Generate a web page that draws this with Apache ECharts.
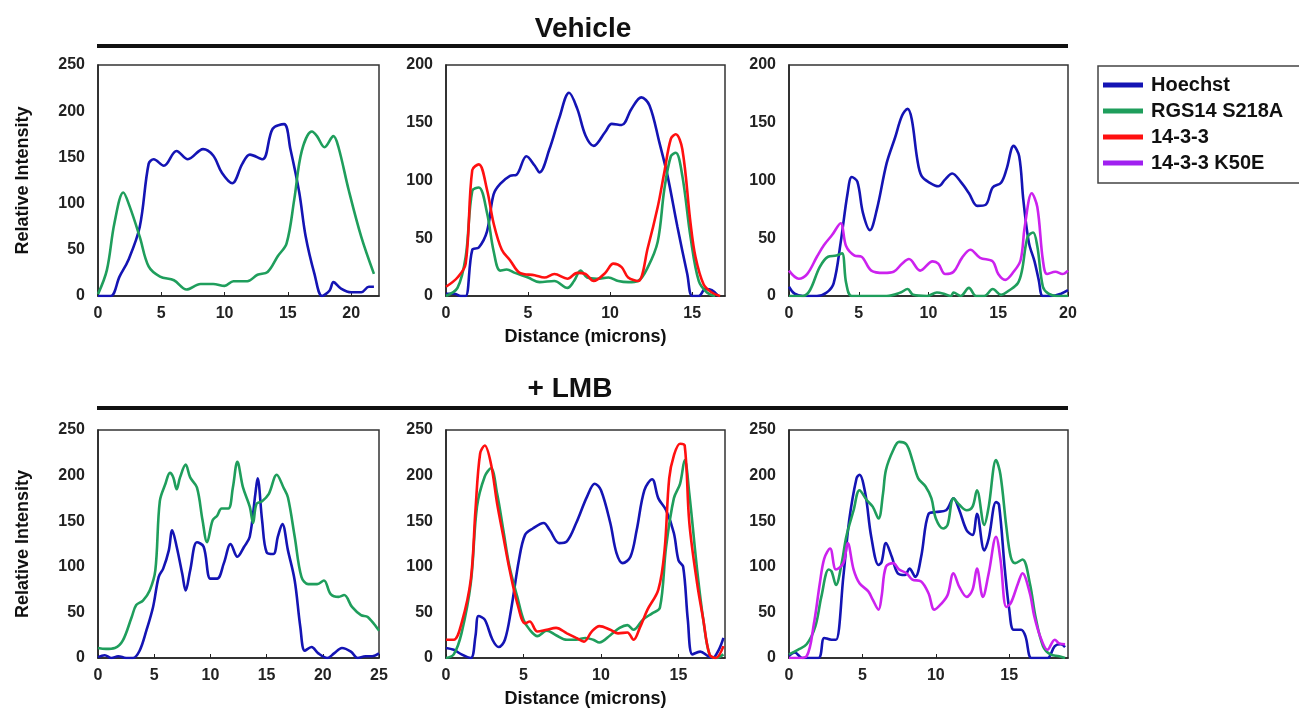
<!DOCTYPE html>
<html>
<head>
<meta charset="utf-8">
<script src="https://cdn.jsdelivr.net/npm/echarts@6/dist/echarts.min.js"></script>
<style>
html,body{margin:0;padding:0;background:#fff;}
#c{width:1299px;height:713px;}
</style>
</head>
<body>
<div id="c"></div>
<script>
// ---- Labels ----
const seriesNames = ['Hoechst', 'RGS14 S218A', '14-3-3', '14-3-3 K50E'];
const rowTitles = ['Vehicle', '+ LMB'];
const yAxisTitle = 'Relative Intensity';
const xAxisTitle = 'Distance (microns)';
const panelXMax = [22.2, 17, 20, 25, 18, 19];
const panelYMax = [250, 200, 200, 250, 250, 250];

// ---- Vehicle, panel 1 ----
const veh1Hoechst = [[0,0],[1,0],[1.7,21],[2.4,39],[3.3,75],[4.0,143],[4.4,148],[5.2,141],[6.2,157],[7.1,148],[8.3,159],[9.1,152],[9.8,133],[10.6,122],[11.4,143],[12.0,153],[13.0,148],[13.8,181],[14.7,186],[15.2,159],[15.9,112],[16.4,65],[17.1,24],[17.7,0],[18.3,6],[18.6,15],[19.2,8],[20.0,4],[20.8,4],[21.4,10],[21.8,10]];
const veh1Rgs = [[0,2],[0.7,28],[1.3,79],[2.0,112],[2.5,97],[3.3,64],[4.0,32],[4.9,21],[6.0,17],[7.0,7],[8.1,13],[9.1,13],[10.0,11],[10.7,16],[11.8,16],[12.6,23],[13.4,26],[14.2,43],[14.9,57],[15.5,104],[16.1,157],[16.9,178],[17.3,173],[17.9,161],[18.6,173],[19.0,161],[19.8,115],[20.8,64],[21.8,24]];

// ---- Vehicle, panel 2 ----
const veh2Hoechst = [[0,2],[0.5,2],[0.9,0],[1.2,0],[1.6,40],[2.0,42],[2.5,56],[2.9,88],[3.3,97],[3.9,104],[4.3,105],[4.9,121],[5.4,113],[5.7,107],[6.3,127],[6.9,154],[7.5,176],[8.0,162],[8.5,139],[9.0,130],[9.7,142],[10.1,149],[10.7,148],[11.3,162],[11.9,172],[12.4,165],[13.0,133],[13.5,104],[14.1,60],[14.7,19],[15.0,0],[15.4,0],[15.8,6],[16.2,5],[16.6,0]];
const veh2Rgs = [[0,0],[0.7,7],[1.2,34],[1.6,91],[2.0,94],[2.5,72],[2.9,39],[3.3,22],[3.7,23],[4.2,20],[5.0,16],[5.7,12],[6.6,13],[7.4,7],[7.8,13],[8.2,22],[8.6,16],[9.2,15],[9.9,16],[10.5,13],[11.1,12],[11.7,13],[12.3,25],[12.9,47],[13.3,92],[13.7,121],[14.0,124],[14.4,104],[14.9,51],[15.4,13],[15.9,3],[16.4,0]];
const veh2Ywha = [[0,8],[0.7,16],[1.2,28],[1.6,109],[2.0,114],[2.5,92],[2.9,63],[3.4,40],[3.9,31],[4.5,20],[5.4,18],[6.0,16],[6.6,19],[7.4,15],[8.0,20],[8.5,19],[9.0,13],[9.7,20],[10.2,28],[10.7,25],[11.1,16],[11.7,13],[12.3,42],[12.9,77],[13.3,107],[13.7,136],[14.0,140],[14.4,127],[14.9,63],[15.2,34],[15.7,10],[16.2,3],[16.7,0]];

// ---- Vehicle, panel 3 ----
const veh3Hoechst = [[0,8],[0.4,2],[1.0,0],[2.0,0],[2.7,3],[3.2,11],[3.7,46],[4.2,89],[4.5,103],[4.9,99],[5.3,72],[5.8,57],[6.3,75],[7.0,115],[7.6,137],[8.1,156],[8.5,162],[8.8,153],[9.2,118],[9.5,104],[10.1,98],[10.7,95],[11.2,101],[11.7,106],[12.3,99],[12.9,89],[13.5,78],[14.1,79],[14.6,94],[15.2,98],[15.6,110],[16.1,130],[16.5,121],[16.8,83],[17.2,46],[17.6,30],[17.9,14],[18.2,0],[18.8,0],[19.5,2],[20.0,5]];
const veh3Rgs = [[0,0],[1.0,0],[1.5,5],[2.2,25],[2.8,34],[3.4,35],[3.8,37],[4.1,11],[4.5,0],[6.1,0],[7.0,0],[8.0,3],[8.5,6],[8.9,1],[9.9,0],[10.6,3],[11.1,2],[11.6,0],[11.8,3],[12.3,0],[12.9,7],[13.4,0],[14.0,0],[14.6,6],[15.2,1],[15.8,5],[16.4,11],[16.7,22],[17.1,51],[17.5,55],[17.8,43],[18.2,8],[18.6,2],[19.2,0],[20.0,0]];
const veh3K50e = [[0,22],[0.7,15],[1.3,19],[2.0,34],[2.5,44],[3.1,53],[3.7,63],[4.1,43],[4.7,35],[5.2,34],[5.9,22],[6.8,20],[7.5,21],[8.1,28],[8.6,32],[9.4,22],[10.3,30],[10.7,28],[11.2,19],[11.8,21],[12.4,33],[13.0,40],[13.7,33],[14.6,30],[15.0,19],[15.5,14],[16.1,21],[16.6,31],[16.9,60],[17.4,89],[17.8,77],[18.2,31],[18.5,19],[19.1,21],[19.6,19],[20.0,22]];

// ---- + LMB, panel 4 ----
const lmb1Hoechst = [[0,1],[0.6,3],[1.2,0],[1.8,2],[2.5,0],[3.1,0],[3.7,8],[4.3,30],[4.9,56],[5.4,89],[5.8,98],[6.3,118],[6.6,140],[7.0,122],[7.5,92],[7.8,74],[8.2,96],[8.8,127],[9.4,122],[10.0,87],[10.6,87],[11.2,104],[11.8,125],[12.4,111],[13.0,122],[13.5,133],[14.0,180],[14.2,197],[14.6,151],[15.0,116],[15.6,114],[16.0,133],[16.4,147],[16.9,118],[17.5,85],[18.0,34],[18.4,8],[19.0,12],[19.6,5],[20.4,0],[21.0,5],[21.7,11],[22.5,7],[23.1,0],[23.8,2],[24.4,2],[25.0,5]];
const lmb1Rgs = [[0,11],[0.7,10],[1.5,11],[2.2,19],[3.0,45],[3.4,58],[4.0,63],[4.6,74],[5.1,96],[5.5,172],[6.0,191],[6.4,203],[6.7,198],[7.0,185],[7.3,198],[7.8,212],[8.2,198],[8.8,187],[9.3,151],[9.7,127],[10.2,151],[10.6,156],[11.0,164],[11.6,164],[12.0,187],[12.4,215],[12.9,187],[13.5,166],[13.8,148],[14.1,169],[14.6,172],[15.2,180],[15.9,201],[16.5,187],[16.9,176],[17.5,133],[18.1,89],[18.7,81],[19.5,81],[20.1,85],[20.7,70],[21.4,67],[21.9,69],[22.6,56],[23.4,47],[24.0,45],[25.0,30]];

// ---- + LMB, panel 5 ----
const lmb2Hoechst = [[0,11],[0.5,9],[1.0,4],[1.6,0],[1.9,24],[2.1,46],[2.5,42],[3.0,20],[3.4,12],[3.8,20],[4.2,53],[4.7,107],[5.1,135],[5.6,142],[6.3,148],[6.7,140],[7.3,126],[7.8,128],[8.4,148],[9.1,177],[9.6,191],[10.0,184],[10.6,148],[11.0,115],[11.4,104],[11.9,111],[12.3,140],[12.8,184],[13.3,196],[13.7,175],[14.2,162],[14.7,137],[15.0,107],[15.3,100],[15.6,42],[15.9,4],[16.4,7],[16.9,2],[17.2,0],[17.6,9],[17.9,22]];
const lmb2Rgs = [[0,0],[0.5,4],[1.0,27],[1.6,82],[2.0,166],[2.5,199],[2.9,208],[3.3,180],[3.7,140],[4.1,100],[4.6,67],[5.0,42],[5.4,31],[5.9,24],[6.5,30],[7.1,25],[7.8,20],[8.4,20],[9.0,22],[9.5,20],[9.9,17],[10.6,25],[11.2,33],[11.7,36],[12.1,31],[12.7,42],[13.3,49],[13.8,55],[14.2,122],[14.7,175],[15.1,191],[15.4,217],[15.7,180],[16.2,97],[16.6,42],[17.0,4],[17.4,0],[17.9,4]];
const lmb2Ywha = [[0,20],[0.5,20],[1.0,38],[1.6,86],[1.9,162],[2.2,224],[2.5,233],[2.9,213],[3.3,169],[3.7,133],[4.1,97],[4.6,60],[5.1,38],[5.4,40],[5.9,29],[6.5,31],[7.1,33],[7.8,27],[8.4,22],[8.9,18],[9.4,29],[9.9,35],[10.6,31],[11.1,27],[11.7,28],[12.1,20],[12.5,33],[13.0,53],[13.7,75],[14.1,118],[14.4,197],[14.7,222],[15.1,235],[15.4,233],[15.7,148],[16.2,82],[16.6,42],[17.0,4],[17.4,0],[17.9,13]];

// ---- + LMB, panel 6 ----
const lmb3Hoechst = [[0,2],[0.4,6],[0.9,0],[2.0,0],[2.4,22],[2.9,20],[3.2,20],[3.7,89],[4.1,151],[4.6,197],[4.8,201],[5.2,180],[5.6,133],[6.1,102],[6.3,105],[6.6,126],[7.0,111],[7.4,93],[7.9,91],[8.2,98],[8.6,89],[9.0,111],[9.5,158],[10.0,160],[10.7,162],[11.2,175],[11.6,162],[12.1,140],[12.5,135],[12.8,158],[13.3,118],[13.6,131],[14.1,171],[14.3,168],[14.7,97],[15.0,53],[15.3,31],[15.8,31],[16.1,24],[16.5,0],[17.0,0],[17.6,0],[18.1,13],[18.5,15],[18.8,12]];
const lmb3Rgs = [[0,4],[0.6,9],[1.2,15],[1.8,35],[2.2,67],[2.7,97],[2.9,95],[3.2,80],[3.6,105],[3.9,133],[4.4,162],[4.8,184],[5.3,173],[5.7,166],[6.1,153],[6.4,180],[6.6,206],[7.1,228],[7.5,237],[8.0,234],[8.4,217],[8.8,197],[9.3,188],[9.7,175],[10.0,153],[10.5,142],[10.8,146],[11.2,175],[11.6,168],[12.1,162],[12.5,166],[12.8,184],[13.3,146],[13.6,166],[14.1,217],[14.4,201],[14.8,144],[15.1,111],[15.4,104],[15.9,108],[16.4,82],[16.8,44],[17.3,13],[17.8,4],[18.4,2],[18.8,0]];
const lmb3K50e = [[0,0],[0.6,0],[1.2,2],[1.7,38],[2.1,82],[2.4,109],[2.8,120],[3.2,97],[3.7,104],[4.0,126],[4.4,97],[4.8,82],[5.4,73],[5.7,64],[6.1,53],[6.3,67],[6.6,100],[7.1,104],[7.5,97],[8.0,93],[8.4,86],[9.0,84],[9.5,71],[9.9,53],[10.4,60],[10.8,69],[11.2,93],[11.6,78],[12.1,67],[12.5,75],[12.8,98],[13.2,67],[13.6,93],[14.1,133],[14.4,108],[14.8,56],[15.1,60],[15.6,82],[15.9,93],[16.4,71],[16.7,46],[17.1,24],[17.6,9],[18.1,20],[18.4,16],[18.8,15]];

// ---- Assemble ----
const panels = [
  [veh1Hoechst, veh1Rgs, null, null],
  [veh2Hoechst, veh2Rgs, veh2Ywha, null],
  [veh3Hoechst, veh3Rgs, null, veh3K50e],
  [lmb1Hoechst, lmb1Rgs, null, null],
  [lmb2Hoechst, lmb2Rgs, lmb2Ywha, null],
  [lmb3Hoechst, lmb3Rgs, null, lmb3K50e]
];
const colors = ['#1414b4', '#1f9e5c', '#ff1010', '#cc22ee'];
const legendColors = ['#1414b4', '#1f9e5c', '#ff1010', '#a020f0'];

const FONT = '"Liberation Sans", Arial, sans-serif';
const gridPos = [
  {left: 98, top: 65, width: 281, height: 231},
  {left: 446, top: 65, width: 279, height: 231},
  {left: 789, top: 65, width: 279, height: 231},
  {left: 98, top: 430, width: 281, height: 228},
  {left: 446, top: 430, width: 279, height: 228},
  {left: 789, top: 430, width: 279, height: 228}
];

const grids = [], xAxes = [], yAxes = [], series = [];
gridPos.forEach((g, i) => {
  grids.push(Object.assign({show: true, borderColor: '#333', borderWidth: 1.5, containLabel: false}, g));
  const labelStyle = {fontFamily: FONT, fontWeight: 'bold', fontSize: 16, color: '#222'};
  xAxes.push({
    type: 'value', gridIndex: i, min: 0, max: panelXMax[i], interval: 5,
    axisLine: {show: true, lineStyle: {color: '#222', width: 1.5}},
    axisTick: {show: true, inside: true, length: 4, lineStyle: {color: '#222'}},
    axisLabel: Object.assign({margin: 10, showMaxLabel: panelXMax[i] % 5 === 0}, labelStyle),
    splitLine: {show: false},
    name: (i === 1 || i === 4) ? xAxisTitle : '',
    nameLocation: 'middle', nameGap: 32,
    nameTextStyle: {fontFamily: FONT, fontWeight: 'bold', fontSize: 18, color: '#111'}
  });
  yAxes.push({
    type: 'value', gridIndex: i, min: 0, max: panelYMax[i], interval: 50,
    axisLine: {show: true, lineStyle: {color: '#222', width: 1.5}},
    axisTick: {show: false},
    axisLabel: Object.assign({margin: 13}, labelStyle),
    splitLine: {show: false},
    name: (i === 0 || i === 3) ? yAxisTitle : '',
    nameLocation: 'middle', nameGap: 66, nameRotate: 90,
    nameTextStyle: {fontFamily: FONT, fontWeight: 'bold', fontSize: 18, color: '#111'}
  });
  panels[i].forEach((d, k) => {
    if (!d) return;
    series.push({
      type: 'line', name: seriesNames[k], xAxisIndex: i, yAxisIndex: i,
      data: d, smooth: 0.35, showSymbol: false, symbol: 'none',
      lineStyle: {color: colors[k], width: 2.6},
      itemStyle: {color: colors[k]},
      emphasis: {disabled: true}
    });
  });
});

const chart = echarts.init(document.getElementById('c'), null, {renderer: 'canvas'});
chart.setOption({
  animation: false,
  backgroundColor: '#fff',
  grid: grids, xAxis: xAxes, yAxis: yAxes, series: series,
  legend: {
    orient: 'vertical', left: 1103, top: 72, padding: 0,
    itemWidth: 40, itemHeight: 5, itemGap: 0, icon: 'rect',
    selectedMode: false,
    textStyle: {fontFamily: FONT, fontWeight: 'bold', fontSize: 20, color: '#111', lineHeight: 26, padding: [0, 0, 0, 3]},
    data: seriesNames.map((n, k) => ({name: n, itemStyle: {color: legendColors[k]}}))
  },
  graphic: [
    {type: 'text', style: {text: rowTitles[0], font: 'bold 28px ' + FONT, fill: '#111', x: 583, y: 29, textAlign: 'center', textVerticalAlign: 'middle'}},
    {type: 'rect', shape: {x: 97, y: 44, width: 971, height: 4}, style: {fill: '#111'}},
    {type: 'text', style: {text: rowTitles[1], font: 'bold 28px ' + FONT, fill: '#111', x: 570, y: 389, textAlign: 'center', textVerticalAlign: 'middle'}},
    {type: 'rect', shape: {x: 97, y: 406, width: 971, height: 4}, style: {fill: '#111'}},
    {type: 'rect', shape: {x: 1098, y: 66, width: 260, height: 117}, style: {fill: 'none', stroke: '#444', lineWidth: 1.5}}
  ]
});
</script>
</body>
</html>
